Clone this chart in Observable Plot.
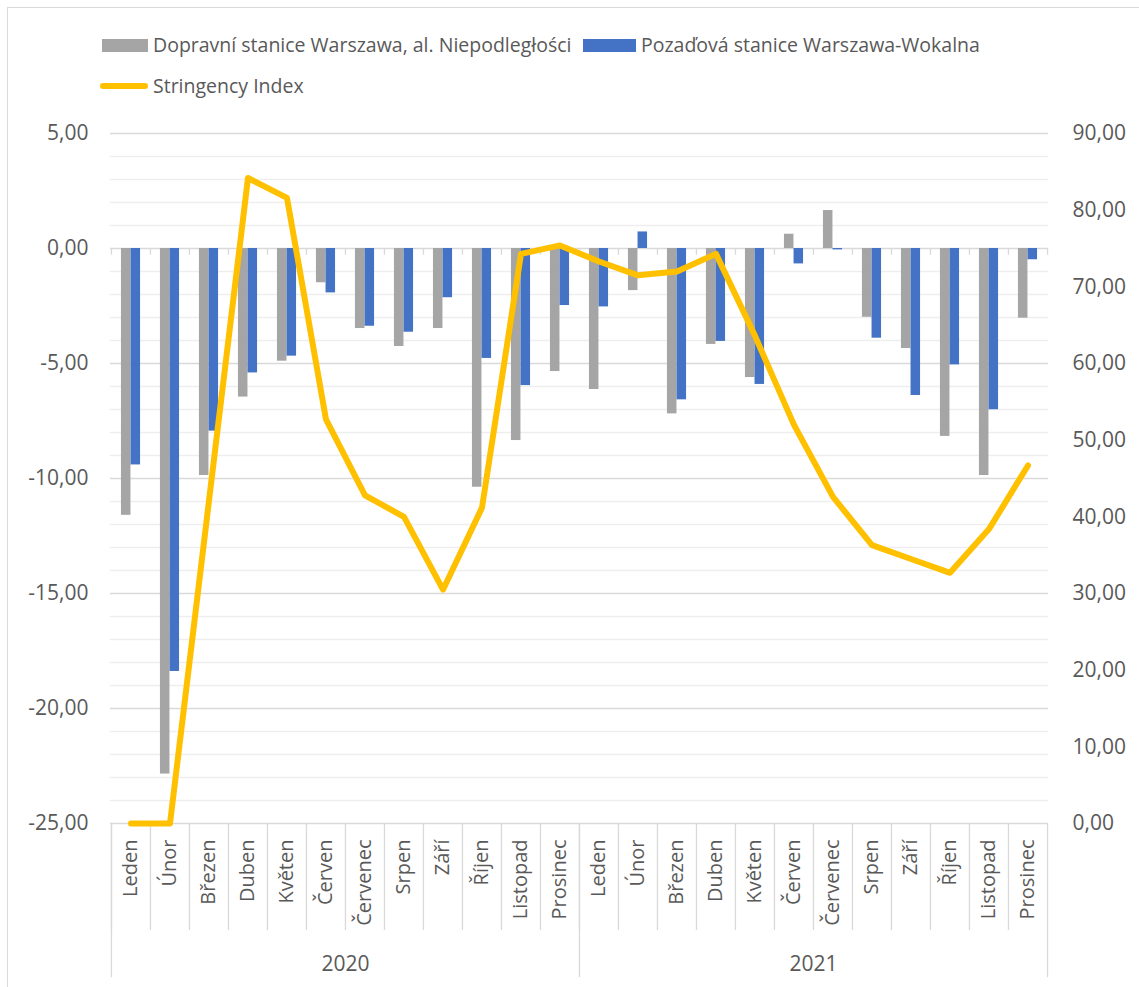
<!DOCTYPE html>
<html><head><meta charset="utf-8">
<script src="https://cdn.jsdelivr.net/npm/d3@7"></script>
<script src="https://cdn.jsdelivr.net/npm/@observablehq/plot@0.6"></script>
<style>
html,body{margin:0;padding:0;background:#fff;overflow:hidden;}
body{font-family:"Open Sans",sans-serif;position:relative;width:1139px;height:987px;}
#frame{position:absolute;left:7px;top:7px;width:1400px;height:1400px;border:1px solid #d9d9d9;box-sizing:border-box;pointer-events:none;}
#legend{position:relative;height:110px;color:#595959;font-size:19.5px;}
.item{position:absolute;display:flex;align-items:center;white-space:nowrap;height:24px;line-height:24px;}
.sw{width:46px;height:13px;margin-right:5px;}
.ln{width:48px;height:6px;border-radius:3px;margin-right:5px;}
#chart{position:relative;}
</style></head>
<body>
<div id="frame"></div>
<div id="legend"></div>
<div id="chart"></div>
<script>
// ---- data ----
const months = ["Leden","Únor","Březen","Duben","Květen","Červen","Červenec","Srpen","Září","Říjen","Listopad","Prosinec"];
const years = ["2020","2021"];
const seriesNames = ["Dopravní stanice Warszawa, al. Niepodległości","Pozaďová stanice Warszawa-Wokalna","Stringency Index"];
const dopravni = [-11.60,-22.85,-9.87,-6.46,-4.90,-1.49,-3.48,-4.26,-3.48,-10.38,-8.35,-5.35,
                  -6.13,-1.83,-7.19,-4.17,-5.61,0.62,1.65,-2.99,-4.35,-8.17,-9.87,-3.03];
const pozadova = [-9.41,-18.39,-7.94,-5.41,-4.68,-1.93,-3.38,-3.64,-2.14,-4.78,-5.96,-2.48,
                  -2.54,0.72,-6.58,-4.04,-5.91,-0.67,-0.06,-3.90,-6.39,-5.06,-7.01,-0.49];
const stringency = [0,0,42.1,84.2,81.6,52.7,42.8,40.0,30.5,41.2,74.3,75.4,
                    73.3,71.5,72.0,74.3,63.6,52.0,42.6,36.3,34.5,32.7,38.4,46.7];
const leftTicks = [-25,-20,-15,-10,-5,0,5];
const rightTicks = [0,10,20,30,40,50,60,70,80,90];
const colors = ["#A5A5A5","#4472C4","#FFC000"];

// ---- legend ----
const legend = document.getElementById("legend");
function addItem(left, top, html){const d=document.createElement("div");d.className="item";d.style.left=left+"px";d.style.top=top+"px";d.innerHTML=html;legend.appendChild(d);}
addItem(102,33,`<span class="sw" style="background:${colors[0]}"></span>${seriesNames[0]}`);
addItem(583,33,`<span class="sw" style="background:${colors[1]};width:53px"></span>${seriesNames[1]}`);
addItem(100,74,`<span class="ln" style="background:${colors[2]}"></span>${seriesNames[2]}`);

// ---- chart ----
const W=1139, H=877, ML=110, MR=91, MT=23, MB=164;
const keys = years.flatMap(y => months.map(m => `${y}|${m}`));
const rows = keys.map((k,i)=>({key:k, dop:dopravni[i], poz:pozadova[i], si:stringency[i]}));
const bw = (W-ML-MR)/keys.length;
const barW = 9.6;
const toLeft = v => -25 + v*30/90;
const fmt = v => v.toFixed(2).replace(".", ",");
const minor = d3.range(-25,6,1).filter(v => v%5!==0);
const lastKey = keys[keys.length-1];
const yearStarts = years.map(y => `${y}|${months[0]}`);

const chart = Plot.plot({
  width:W, height:H, marginLeft:ML, marginRight:MR, marginTop:MT, marginBottom:MB,
  style:{fontFamily:"Open Sans, sans-serif", color:"#595959", background:"transparent", overflow:"visible"},
  x:{type:"band", domain:keys, padding:0, label:null},
  y:{domain:[-25,5], label:null},
  marks:[
    Plot.ruleY(minor, {stroke:"#eeeeee", strokeWidth:1.3}),
    Plot.ruleY(leftTicks, {stroke:"#d9d9d9", strokeWidth:1.3}),
    // small ticks on the zero category axis
    Plot.ruleX(keys, {x:d=>d, dx:-bw/2, y1:0, y2:-0.29, stroke:"#d9d9d9", strokeWidth:1.3}),
    Plot.ruleX([lastKey], {x:d=>d, dx:bw/2, y1:0, y2:-0.29, stroke:"#d9d9d9", strokeWidth:1.3}),
    // category separators below the plot
    Plot.ruleX(keys, {x:d=>d, dx:-bw/2, y1:-25, y2:-29.65, stroke:"#d9d9d9", strokeWidth:1.3}),
    Plot.ruleX(yearStarts, {x:d=>d, dx:-bw/2, y1:-25, y2:-31.7, stroke:"#d9d9d9", strokeWidth:1.3}),
    Plot.ruleX([lastKey], {x:d=>d, dx:bw/2, y1:-25, y2:-31.7, stroke:"#d9d9d9", strokeWidth:1.3}),
    Plot.barY(rows, {x:"key", y:"dop", fill:colors[0], insetLeft:bw/2-barW, insetRight:bw/2}),
    Plot.barY(rows, {x:"key", y:"poz", fill:colors[1], insetLeft:bw/2, insetRight:bw/2-barW}),
    Plot.lineY(rows, {x:"key", y:d=>toLeft(d.si), stroke:colors[2], strokeWidth:6, strokeLinejoin:"round", strokeLinecap:"round"}),
    Plot.axisY(leftTicks, {anchor:"left", tickFormat:fmt, tickSize:0, tickPadding:22, fontSize:21, label:null}),
    Plot.axisY(rightTicks.map(toLeft), {anchor:"right", tickFormat:v=>fmt((v+25)*3), tickSize:0, tickPadding:24, fontSize:21, label:null}),
    Plot.axisX({tickFormat:k=>k.split("|")[1], tickRotate:-90, tickSize:0, tickPadding:16, fontSize:20, label:null}),
    Plot.text(years, {x:y=>`${y}|${months[5]}`, dx:bw/2, frameAnchor:"bottom", dy:147, text:d=>d, fontSize:21, fill:"#595959"})
  ]
});
document.getElementById("chart").appendChild(chart);
</script>
</body></html>
